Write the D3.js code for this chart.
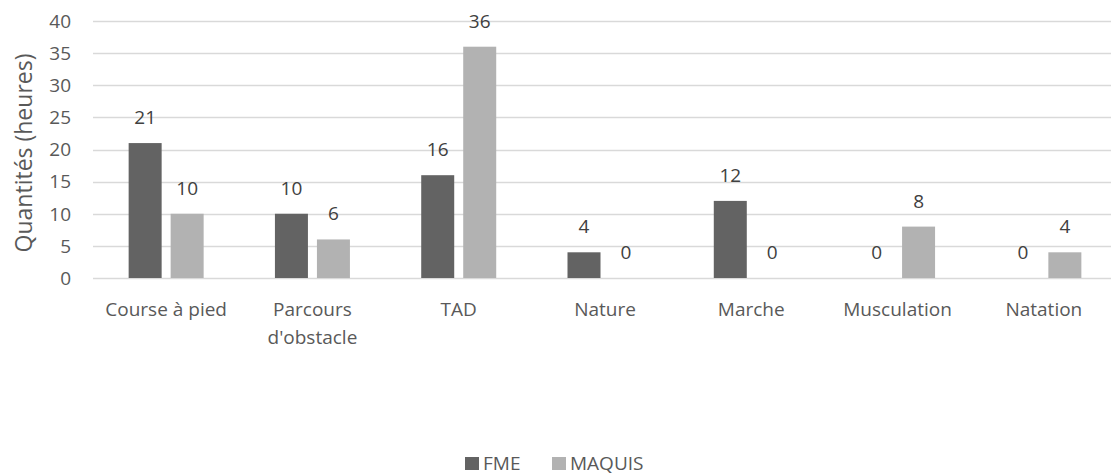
<!DOCTYPE html>
<html>
<head>
<meta charset="utf-8">
<title>Quantités (heures)</title>
<style>
body { margin: 0; background: #fff; }
text { font-family: "Open Sans", sans-serif; }
</style>
<script src="https://cdn.jsdelivr.net/npm/d3@7"></script>
</head>
<body>
<script>
var categories = [["Course à pied"], ["Parcours", "d'obstacle"], ["TAD"], ["Nature"], ["Marche"], ["Musculation"], ["Natation"]];
var seriesNames = ["FME", "MAQUIS"];
var fme = [21, 10, 16, 4, 12, 0, 0];
var maquis = [10, 6, 36, 0, 0, 8, 4];
var yTicks = [0, 5, 10, 15, 20, 25, 30, 35, 40];
var colors = ["#636363", "#b2b2b2"];

var W = 1111, H = 475;
var mLeft = 93, mRight = 1117, mTop = 21, mBottom = 278;
var fs = 19;

var svg = d3.select("body").append("svg")
    .attr("width", W)
    .attr("height", H);

var x = d3.scaleBand()
    .domain(d3.range(categories.length))
    .range([mLeft, mRight]);

var y = d3.scaleLinear()
    .domain([0, 40])
    .range([mBottom, mTop]);

// gridlines
svg.append("g").selectAll("line")
    .data(yTicks)
    .enter().append("line")
    .attr("x1", mLeft).attr("x2", W)
    .attr("y1", function(d){ return Math.round(y(d)) + 0.5; })
    .attr("y2", function(d){ return Math.round(y(d)) + 0.5; })
    .attr("stroke", "#d9d9d9")
    .attr("stroke-width", 1.3);

// y tick labels
svg.append("g").selectAll("text")
    .data(yTicks)
    .enter().append("text")
    .attr("x", 71)
    .attr("y", function(d){ return y(d); })
    .attr("dy", "0.36em")
    .attr("text-anchor", "end")
    .attr("font-size", fs)
    .attr("fill", "#595959")
    .text(function(d){ return d; });

// y title
svg.append("text")
    .attr("transform", "translate(32,153) rotate(-90)")
    .attr("text-anchor", "middle")
    .attr("font-size", 23)
    .attr("fill", "#595959")
    .text("Quantités (heures)");

var barW = 33, gap = 9;
var series = [fme, maquis];

series.forEach(function(vals, s){
  var off = s == 0 ? -(gap/2 + barW) : gap/2;
  var g = svg.append("g");
  g.selectAll("rect")
    .data(vals)
    .enter().append("rect")
    .attr("x", function(d, i){ return x(i) + x.bandwidth()/2 + off; })
    .attr("y", function(d){ return y(d); })
    .attr("width", barW)
    .attr("height", function(d){ return y(0) - y(d); })
    .attr("fill", colors[s]);
  g.selectAll("text")
    .data(vals)
    .enter().append("text")
    .attr("x", function(d, i){ return x(i) + x.bandwidth()/2 + off + barW/2; })
    .attr("y", function(d){ return y(d) - 19; })
    .attr("text-anchor", "middle")
    .attr("font-size", fs)
    .attr("fill", "#404040")
    .text(function(d){ return d; });
});

// category labels
var cat = svg.append("g").selectAll("text")
    .data(categories)
    .enter().append("text")
    .attr("text-anchor", "middle")
    .attr("font-size", fs)
    .attr("fill", "#595959")
    .attr("x", function(d, i){ return x(i) + x.bandwidth()/2; })
    .attr("y", 316);
cat.selectAll("tspan")
    .data(function(d){ return d; })
    .enter().append("tspan")
    .attr("x", function(){ return d3.select(this.parentNode).attr("x"); })
    .attr("dy", function(d, i){ return i == 0 ? 0 : 28; })
    .text(function(d){ return d; });

// legend
var legX = [465, 552];
var leg = svg.append("g").selectAll("g")
    .data(seriesNames)
    .enter().append("g")
    .attr("transform", function(d, i){ return "translate(" + legX[i] + ",457)"; });
leg.append("rect")
    .attr("width", 14).attr("height", 13)
    .attr("fill", function(d, i){ return colors[i]; });
leg.append("text")
    .attr("x", 18).attr("y", 13)
    .attr("font-size", fs)
    .attr("fill", "#595959")
    .text(function(d){ return d; });
</script>
</body>
</html>
